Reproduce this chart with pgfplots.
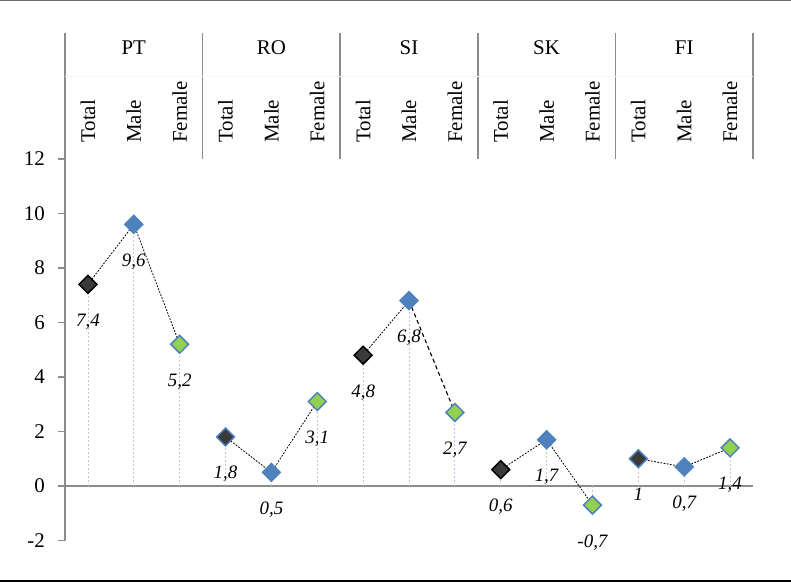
\documentclass[border=0pt]{standalone}
\usepackage{pgfplots}
\pgfplotsset{compat=1.18}
\usepackage{pgfplotstable}
\usepackage{fontspec}
\setmainfont{Liberation Serif}

\definecolor{totalfill}{HTML}{3A3A3A}
\definecolor{maleblue}{HTML}{4F81BD}
\definecolor{femgreen}{HTML}{92D050}
\definecolor{dropline}{HTML}{C4C4DE}
\definecolor{axisgray}{HTML}{8C8C8C}

% Category positions: 0..14 = (PT, RO, SI, SK, FI) x (Total, Male, Female)
\pgfplotstableread{
x  y
0  7.4
6  4.8
9  0.6
}\totalblack
\pgfplotstableread{
x  y
3  1.8
12 1
}\totalblue
\pgfplotstableread{
x  y
1  9.6
4  0.5
7  6.8
10 1.7
13 0.7
}\male
\pgfplotstableread{
x  y
2  5.2
5  3.1
8  2.7
11 -0.7
14 1.4
}\female
\pgfplotstableread{
x  y
0  7.4
1  9.6
2  5.2
3  1.8
4  0.5
5  3.1
6  4.8
7  6.8
8  2.7
9  0.6
10 1.7
11 -0.7
12 1
13 0.7
14 1.4
}\alldata

\tikzset{hdr/.style={inner sep=0pt, font=\fontsize{21}{25}\selectfont}}

\begin{document}
\begin{tikzpicture}
\useasboundingbox (0,0) rectangle (791bp,583bp);
% frame lines
\draw[axisgray!80!black, line width=1bp] (0,582.5bp) -- (791bp,582.5bp);
\draw[black, line width=2bp] (0,2bp) -- (791bp,2bp);

\begin{axis}[
  at={(65bp,42.5bp)}, anchor=south west,
  scale only axis, width=688bp, height=381.5bp,
  xmin=-0.5, xmax=14.5, ymin=-2, ymax=12,
  axis y line=left, axis x line=middle,
  axis line style={-, axisgray, line width=1.5bp},
  hide obscured y ticks=false,
  hide obscured x ticks=false,
  xtick=\empty,
  ytick={-2,0,...,12},
  tick align=outside, major tick length=7bp,
  tick style={axisgray, line width=1.2bp},
  yticklabel style={font=\fontsize{21}{25}\selectfont, inner sep=0pt, xshift=-13bp},
  /pgf/number format/assume math mode=true,
  /pgf/number format/use comma,
  clip=false,
  every node near coord/.append style={
    font=\fontsize{19}{22}\selectfont\itshape, text=black,
    anchor=base, yshift=-42bp},
]

% connecting dashed lines within each country
\addplot[black, line width=0.8bp, dash pattern=on 1.8bp off 1.4bp]
  coordinates {(0,7.4) (1,9.6) (2,5.2)};
\addplot[black, line width=0.8bp, dash pattern=on 1.8bp off 1.4bp]
  coordinates {(3,1.8) (4,0.5) (5,3.1)};
\addplot[black, line width=0.8bp, dash pattern=on 1.8bp off 1.4bp]
  coordinates {(6,4.8) (7,6.8)};
\addplot[black, line width=1.1bp, dash pattern=on 4bp off 3bp]
  coordinates {(7,6.8) (8,2.7)};
\addplot[black, line width=0.8bp, dash pattern=on 1.8bp off 1.4bp]
  coordinates {(9,0.6) (10,1.7) (11,-0.7)};
\addplot[black, line width=0.8bp, dash pattern=on 1.8bp off 1.4bp]
  coordinates {(12,1) (13,0.7) (14,1.4)};

% markers
\addplot[only marks, mark=square*, mark size=6.3bp,
  mark options={rotate=45, fill=totalfill, draw=black, line width=1.5bp},
  nodes near coords] table {\totalblack};
\addplot[only marks, mark=square*, mark size=6.3bp,
  mark options={rotate=45, fill=totalfill, draw=maleblue, line width=1.5bp},
  nodes near coords] table {\totalblue};
\addplot[only marks, mark=square*, mark size=6.3bp,
  mark options={rotate=45, fill=maleblue, draw=maleblue, line width=1.5bp},
  nodes near coords] table {\male};
\addplot[only marks, mark=square*, mark size=6.3bp,
  mark options={rotate=45, fill=femgreen, draw=maleblue, line width=1.5bp},
  nodes near coords] table {\female};

% drop lines to the zero line
\addplot[ycomb, dropline, line width=0.8bp, dash pattern=on 2bp off 2bp]
  table {\alldata};

% header: country separators, names and sex labels
\pgfplotsinvokeforeach{-0.5,2.5,5.5,8.5,11.5,14.5}{
  \draw[axisgray, line width=1.5bp] (axis cs:#1,12) -- (axis cs:#1,16.62);
}
\draw[gray!6, line width=0.5bp] (axis cs:-0.5,15.05) -- (axis cs:14.5,15.05);
\node[hdr, anchor=base] at (axis cs:1,15.82) {PT};
\node[hdr, anchor=base] at (axis cs:4,15.82) {RO};
\node[hdr, anchor=base] at (axis cs:7,15.82) {SI};
\node[hdr, anchor=base] at (axis cs:10,15.82) {SK};
\node[hdr, anchor=base] at (axis cs:13,15.82) {FI};
\pgfplotsinvokeforeach{0,3,6,9,12}{
  \node[hdr, rotate=90, anchor=west] at (axis cs:#1,12.59) {Total};
}
\pgfplotsinvokeforeach{1,4,7,10,13}{
  \node[hdr, rotate=90, anchor=west] at (axis cs:#1,12.59) {Male};
}
\pgfplotsinvokeforeach{2,5,8,11,14}{
  \node[hdr, rotate=90, anchor=west] at (axis cs:#1,12.59) {Female};
}
\end{axis}
\end{tikzpicture}
\end{document}
